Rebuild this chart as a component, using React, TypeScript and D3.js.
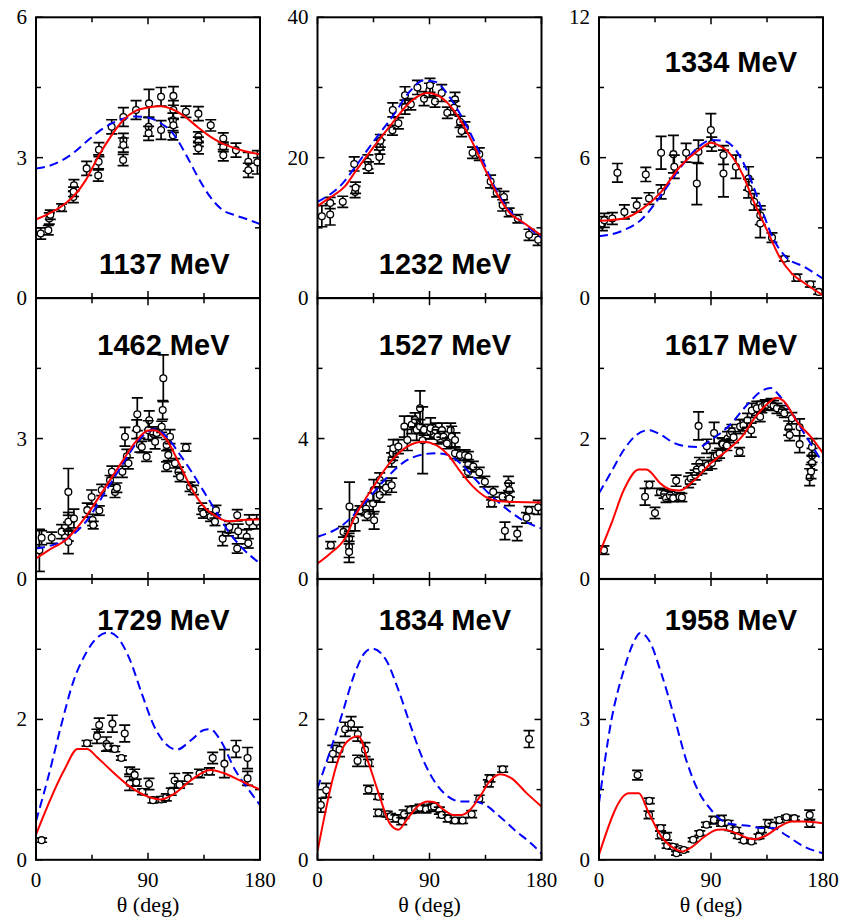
import React from 'react';
import * as d3 from 'd3';

// [theta (deg), dσ/dΩ, error]
type Pt = [number, number, number];
type Cv = [number, number][];

const ENERGIES = ['1137', '1232', '1334', '1462', '1527', '1617', '1729', '1834', '1958'];
const Y_MAX = [6, 40, 12, 6, 8, 4, 4, 4, 6];
const X_TICKS = [0, 45, 90, 135, 180];
const X_LABELS = [0, 90, 180];
const X_TITLE = 'θ (deg)';

const DATA_1137: Pt[] = [
  [3.8,1.38,0.12],[9.9,1.45,0.1],[10.7,1.70,0.12],[11.5,1.78,0.1],[20.6,1.93,0.08],[30,2.16,0.12],[30.5,2.41,0.12],[30.2,2.27,0.1],
  [40.7,2.77,0.15],[50,2.62,0.12],[50.6,3.17,0.15],[50.3,2.91,0.15],[60.8,3.66,0.15],[70.2,3.87,0.2],[70.2,3.37,0.15],[70.2,3.27,0.15],
  [70,2.95,0.12],[80.4,4.02,0.2],[90.8,4.16,0.3],[90.5,3.66,0.2],[90.5,3.52,0.15],[100.5,4.30,0.2],[100.5,3.59,0.2],[110.4,4.32,0.2],
  [110.4,4.02,0.2],[110,3.80,0.15],[110.4,3.69,0.15],[110,3.48,0.1],[120.5,3.98,0.12],[130.5,3.94,0.15],[130.5,3.45,0.1],[130.5,3.34,0.1],
  [130.5,3.20,0.12],[140.4,3.69,0.12],[150.5,3.41,0.12],[150.5,3.23,0.1],[150.5,3.05,0.12],[160.7,3.16,0.15],[170.6,2.91,0.2],[170.6,2.73,0.15],
  [177.9,2.90,0.25],
];
const DATA_1232: Pt[] = [
  [3.5,11.65,1.5],[10.2,11.9,1.5],[10.2,13.55,0.8],[20.3,13.7,0.8],[30.2,15.1,0.8],[30.6,15.7,0.8],[29.5,19.1,1.0],[40.5,19.4,1.0],
  [41,18.6,0.8],[49.7,20.1,1.0],[50.2,21.5,1.0],[50.5,22.4,0.9],[60.2,23.9,0.7],[60.5,26.8,1.0],[65,24.9,0.8],[70.3,27.2,1.0],
  [70.3,28.9,1.2],[75,27.6,0.8],[80.3,30.0,1.0],[85.6,28.4,1.0],[89.9,29.6,1.0],[90.4,30.3,1.0],[94.4,28.0,0.8],[99.8,29.2,1.2],
  [104.3,26.4,0.8],[110.5,28.3,1.0],[109.7,27.1,1.0],[114.5,25.1,0.8],[118.5,24.3,0.8],[115.8,23.8,0.8],[124.6,20.7,0.8],[130,20.5,0.9],
  [139.1,16.6,0.9],[144,15.0,0.6],[149.8,14.4,0.8],[148.8,13.2,0.8],[154,12.2,0.6],[161,11.3,0.6],[170,9.0,0.8],[177.3,8.3,0.8],
];
const DATA_1334: Pt[] = [
  [2.7,3.18,0.3],[4.3,3.32,0.3],[10.7,3.40,0.25],[14.8,5.35,0.4],[20.4,3.68,0.3],[30.3,3.97,0.3],[37.6,5.28,0.3],[40.2,4.25,0.25],
  [49.9,6.21,0.7],[49.9,4.54,0.3],[59.8,6.15,0.8],[60.5,5.61,0.5],[70,6.21,0.4],[78.6,4.89,0.9],[79.9,6.25,0.5],[89.9,7.18,0.7],
  [90.6,6.58,0.3],[100,5.32,1.0],[100,6.11,0.4],[110,5.61,0.5],[120.2,5.11,0.5],[120.2,4.68,0.4],[124.7,4.11,0.35],[129.6,3.54,0.4],
  [129.6,3.18,0.6],[139,2.58,0.2],[148.9,1.68,0.1],[159,0.87,0.15],[169.8,0.59,0.12],[176.5,0.26,0.1],
];
const DATA_1462: Pt[] = [
  [2.7,0.61,0.45],[4.5,0.88,0.15],[12.6,0.88,0.12],[20.6,1.01,0.15],[26,1.86,0.5],[26,1.01,0.2],[26,1.22,0.2],[26,0.79,0.25],
  [30.5,1.29,0.2],[41.2,1.47,0.15],[44.7,1.75,0.15],[45.5,1.26,0.12],[46,1.15,0.08],[50.9,1.46,0.1],[52.8,1.90,0.12],[59.5,2.11,0.1],
  [61,2.29,0.12],[63.5,1.86,0.12],[65,1.95,0.1],[69.4,2.29,0.12],[71.5,3.04,0.2],[73,2.62,0.15],[74.2,2.47,0.12],[81.4,3.52,0.35],
  [80.9,3.20,0.2],[83.5,2.86,0.15],[85,2.82,0.12],[88.9,2.61,0.1],[91,3.39,0.2],[90.2,3.18,0.2],[94.2,3.10,0.15],[95.7,2.93,0.15],
  [97,3.12,0.1],[102.3,4.29,0.5],[101.8,3.61,0.2],[101,3.25,0.12],[105,2.86,0.12],[105,2.40,0.1],[106.3,2.65,0.12],[107.7,3.04,0.15],
  [111.7,2.47,0.1],[114.5,2.29,0.1],[115.8,2.18,0.1],[120.5,2.81,0.08],[123.8,1.97,0.1],[126.5,1.90,0.1],[133.2,1.50,0.12],[134.5,1.40,0.1],
  [140.3,1.33,0.1],[144.6,1.47,0.1],[143.8,1.22,0.08],[150,0.86,0.15],[154.6,1.04,0.12],[155.4,1.11,0.12],[161.7,1.36,0.12],[161.7,0.65,0.1],
  [162.5,1.02,0.15],[169.3,0.90,0.15],[170.6,0.76,0.1],[171.4,1.22,0.15],[177.3,1.22,0.15],
];
const DATA_1527: Pt[] = [
  [10.7,0.96,0.1],[20.9,1.34,0.15],[25.7,2.06,0.7],[25.4,1.15,0.15],[25.4,0.91,0.3],[25.4,0.77,0.3],[30.2,1.67,0.3],[34.2,1.96,0.12],
  [39,2.0,0.2],[40,1.82,0.15],[44.7,2.15,0.3],[45.5,1.67,0.25],[45.2,2.53,0.3],[50,2.82,0.2],[50,2.39,0.2],[55,2.6,0.2],
  [59.6,2.67,0.2],[59.6,3.39,0.2],[60.4,3.58,0.2],[60.9,3.72,0.25],[65,3.77,0.2],[69.8,4.34,0.3],[72.2,3.96,0.3],[75.7,4.39,0.25],
  [78.4,4.53,0.2],[79.7,4.25,0.3],[82.4,4.86,0.5],[82.4,4.34,0.2],[84.5,3.95,0.95],[85.6,4.25,0.15],[90.4,4.20,0.2],[90.9,4.29,0.3],
  [94.9,4.24,0.2],[96.3,4.05,0.2],[100,4.24,0.2],[101.3,4.05,0.15],[104,3.86,0.15],[107,4.24,0.2],[107.8,4.05,0.3],[110.5,3.96,0.2],
  [110.5,3.58,0.15],[114.5,3.53,0.15],[118.6,3.53,0.15],[121.2,3.48,0.15],[121.2,3.25,0.15],[121,3.05,0.15],[125.2,3.2,0.15],[130,3.03,0.15],
  [134.5,2.77,0.15],[139.9,2.15,0.1],[141.2,2.48,0.15],[148.7,2.34,0.12],[153.4,2.72,0.2],[154.2,2.53,0.2],[154.2,2.29,0.2],[150.6,1.37,0.25],
  [160.5,1.29,0.2],[168,1.74,0.15],[170,1.96,0.1],[177.4,2.04,0.2],
];
const DATA_1617: Pt[] = [
  [4,0.41,0.06],[37,1.17,0.12],[40.5,1.34,0.05],[45,0.94,0.08],[49,1.24,0.05],[52.3,1.21,0.06],[53.9,1.15,0.06],[57,1.19,0.06],
  [59.6,1.15,0.05],[62,1.40,0.08],[64.7,1.17,0.06],[66.6,1.16,0.06],[72,1.38,0.08],[73.8,1.43,0.08],[77.3,1.48,0.07],[78.6,1.56,0.08],
  [80,2.18,0.2],[80.7,1.65,0.08],[82.7,1.57,0.07],[86.6,1.89,0.1],[87.2,1.62,0.07],[90.7,1.65,0.08],[92.5,2.08,0.15],[92.8,1.74,0.06],
  [94.6,1.76,0.07],[96.9,1.79,0.07],[98.8,1.93,0.08],[99.5,1.92,0.08],[103.3,2.0,0.1],[102.8,1.90,0.07],[105.4,2.07,0.08],[106.8,2.10,0.1],
  [108.1,2.02,0.08],[113,1.81,0.06],[113.4,2.17,0.1],[116.1,2.19,0.08],[119.3,2.26,0.1],[122.3,2.12,0.1],[122.8,2.40,0.1],[126.8,2.43,0.1],
  [129.5,2.31,0.07],[130.9,2.45,0.08],[133.6,2.48,0.07],[134.9,2.48,0.07],[138.2,2.49,0.08],[140.3,2.47,0.07],[143,2.43,0.07],[147,2.40,0.07],
  [148.9,2.36,0.06],[152.4,2.15,0.1],[153.2,2.05,0.08],[155,2.29,0.08],[161.2,1.92,0.12],[161.2,2.16,0.12],[171.2,1.76,0.1],[171.2,1.88,0.12],
  [171.2,1.65,0.1],[169.3,1.45,0.12],[170.4,1.53,0.1],
];
const DATA_1729: Pt[] = [
  [4.5,0.28,0.03],[41,1.66,0.04],[49,1.76,0.1],[50.8,1.92,0.1],[56.6,1.65,0.1],[58,1.61,0.05],[61.4,1.94,0.12],[63.3,1.58,0.04],
  [68.6,1.45,0.03],[71.3,1.80,0.12],[75.3,1.27,0.05],[75.3,1.09,0.1],[79.3,1.21,0.08],[80.6,1.10,0.05],[85.5,0.97,0.04],[90.8,1.08,0.08],
  [94,0.85,0.04],[100.7,0.86,0.04],[104.7,0.89,0.05],[108.7,0.97,0.05],[111.4,1.13,0.1],[115.4,1.07,0.05],[122,1.16,0.08],[131.4,1.23,0.06],
  [139.4,1.26,0.05],[142,1.45,0.08],[151.4,1.37,0.2],[160.8,1.58,0.12],[170,1.45,0.15],[170,1.16,0.1],
];
const DATA_1834: Pt[] = [
  [2.7,0.78,0.1],[7,0.99,0.1],[12.3,1.51,0.12],[17.7,1.57,0.1],[22.2,1.86,0.1],[27,1.94,0.1],[32.4,1.79,0.1],[32.2,1.41,0.08],
  [38.2,1.57,0.1],[41,1.38,0.05],[41,1.0,0.06],[49,0.90,0.04],[49,0.67,0.05],[56,0.65,0.04],[58.8,0.62,0.04],[63,0.59,0.05],
  [67.7,0.55,0.05],[69.6,0.65,0.06],[74.4,0.71,0.05],[78.4,0.72,0.05],[82.4,0.74,0.05],[87.2,0.72,0.05],[91.7,0.74,0.05],[93.6,0.76,0.05],
  [97.9,0.70,0.05],[99.8,0.64,0.04],[105,0.59,0.05],[110.5,0.56,0.04],[116.6,0.56,0.04],[123.9,0.65,0.05],[130,0.87,0.05],[137.3,1.09,0.05],
  [138.6,1.16,0.05],[148.8,1.29,0.04],[170,1.72,0.12],
];
const DATA_1958: Pt[] = [
  [31,1.81,0.1],[40.4,1.26,0.06],[40.2,0.96,0.08],[49.5,0.68,0.06],[49.5,0.53,0.08],[54.3,0.50,0.08],[54.8,0.30,0.05],[59.6,0.28,0.05],
  [62.3,0.14,0.04],[65,0.23,0.04],[68.2,0.21,0.04],[75.7,0.43,0.04],[81,0.57,0.05],[86.4,0.75,0.05],[92.3,0.85,0.08],[98.4,0.87,0.08],
  [98.4,0.78,0.06],[103.8,0.78,0.06],[105.1,0.68,0.05],[110,0.63,0.06],[111.9,0.51,0.05],[116.3,0.41,0.04],[122.5,0.39,0.04],[128.6,0.50,0.05],
  [130.5,0.64,0.06],[135.9,0.78,0.08],[139.9,0.73,0.05],[145,0.85,0.05],[150.6,0.91,0.04],[157,0.89,0.04],[169.3,0.96,0.1],[169.3,0.78,0.08],
];

// Full model (solid red)
const FIT_1137: Cv = [[0,1.68],[10,1.80],[20,1.95],[24,2.03],[30,2.17],[40,2.52],[50,3.02],[60,3.45],[70,3.80],[80,4.00],[90,4.07],[100,4.10],[110,4.03],[120,3.87],[130,3.65],[140,3.45],[150,3.30],[165,3.16],[180,3.07]];
const FIT_1232: Cv = [[0,13.1],[10,14.3],[22,15.9],[30,17.9],[45,21.5],[60,24.9],[75,28.0],[88,29.2],[95,29.0],[105,27.7],[115,25.3],[125,22.0],[135,18.2],[145,14.6],[155,12.0],[165,10.8],[180,8.9]];
const FIT_1334: Cv = [[0,3.30],[20,3.40],[35,3.82],[50,4.54],[65,5.61],[80,6.32],[90,6.64],[95,6.56],[105,6.18],[115,5.32],[125,4.04],[135,2.90],[145,1.76],[155,1.04],[165,0.64],[180,0.11]];
const FIT_1462: Cv = [[0,0.44],[10,0.61],[25,0.86],[40,1.33],[55,1.93],[70,2.54],[80,2.93],[90,3.17],[95,3.18],[105,2.97],[115,2.47],[125,1.93],[135,1.54],[145,1.33],[155,1.23],[165,1.26],[180,1.27]];
const FIT_1527: Cv = [[0,0.44],[10,0.72],[22,1.15],[30,1.77],[45,2.63],[60,3.39],[72,3.77],[85,3.91],[95,3.82],[105,3.53],[115,3.05],[125,2.63],[135,2.34],[145,2.22],[160,2.19],[180,2.18]];
const FIT_1617: Cv = [[0,0.35],[10,0.79],[20,1.27],[32,1.56],[38,1.56],[50,1.35],[58,1.27],[65,1.26],[75,1.38],[90,1.65],[105,1.86],[115,2.03],[125,2.29],[135,2.49],[143,2.58],[148,2.54],[160,2.22],[170,2.03],[180,1.79]];
const FIT_1729: Cv = [[0,0.36],[23,1.29],[33.4,1.58],[41,1.58],[48.6,1.47],[60,1.28],[75,1.05],[90,0.90],[100,0.86],[110,0.93],[125,1.14],[140,1.28],[150,1.24],[165,1.12],[180,1.00]];
const FIT_1834: Cv = [[0,0.12],[23.5,1.68],[32.9,1.76],[41,1.38],[50,0.90],[58,0.52],[65,0.43],[71.7,0.57],[79.7,0.75],[89,0.83],[94,0.82],[101,0.72],[109,0.64],[116,0.64],[122.5,0.71],[130.5,0.90],[138.5,1.12],[146.6,1.22],[156,1.16],[168,0.95],[180,0.76]];
const FIT_1958: Cv = [[0,0.11],[24,1.42],[32,1.42],[40,1.0],[50,0.50],[60,0.25],[67,0.18],[75,0.28],[85,0.50],[95,0.64],[100,0.65],[110,0.57],[120,0.46],[125,0.44],[135,0.53],[145,0.71],[155,0.82],[165,0.82],[180,0.78]];

// Reduced model (dashed blue)
const ALT_1137: Cv = [[0,2.77],[10,2.82],[20,2.93],[30,3.10],[40,3.33],[50,3.55],[60,3.72],[70,3.83],[80,3.88],[90,3.86],[100,3.74],[110,3.52],[120,3.09],[130,2.59],[140,2.16],[150,1.88],[160,1.77],[170,1.68],[180,1.58]];
const ALT_1232: Cv = [[0,13.7],[20,16.3],[30,18.6],[45,22.3],[60,25.8],[75,29.6],[85,31.0],[95,30.8],[105,28.9],[115,26.1],[125,22.7],[135,18.7],[145,14.9],[155,12.3],[165,10.7],[180,8.6]];
const ALT_1334: Cv = [[0,2.64],[20,2.90],[35,3.40],[50,4.40],[65,5.54],[80,6.46],[90,6.75],[100,6.72],[110,6.32],[120,5.32],[130,3.90],[140,2.54],[150,1.76],[165,1.33],[180,0.83]];
const ALT_1462: Cv = [[0,0.65],[25,0.86],[40,1.22],[55,1.83],[70,2.47],[85,3.04],[95,3.20],[105,3.04],[115,2.68],[125,2.29],[135,1.86],[145,1.43],[155,1.0],[165,0.68],[180,0.33]];
const ALT_1527: Cv = [[0,1.20],[20,1.53],[40,2.25],[55,2.86],[70,3.34],[85,3.55],[95,3.58],[105,3.53],[115,3.29],[125,2.91],[135,2.53],[145,2.20],[155,1.91],[165,1.67],[180,1.44]];
const ALT_1617: Cv = [[0,1.22],[10,1.53],[20,1.84],[30,2.05],[40,2.12],[50,2.05],[60,1.94],[70,1.89],[80,1.88],[90,1.98],[105,2.19],[120,2.50],[130,2.67],[138,2.72],[145,2.61],[155,2.36],[165,2.07],[180,1.65]];
const ALT_1729: Cv = [[0,0.55],[10,1.19],[20,1.90],[30,2.54],[40,2.94],[50,3.18],[58,3.24],[65,3.18],[75,2.87],[85,2.37],[95,1.90],[105,1.64],[113,1.57],[125,1.71],[135,1.85],[140,1.86],[148,1.71],[160,1.28],[170,1.02],[180,0.78]];
const ALT_1834: Cv = [[0,1.02],[10,1.54],[20,2.09],[30,2.66],[38,2.95],[44,3.01],[55,2.85],[65,2.42],[75,1.90],[85,1.42],[95,1.09],[105,0.90],[115,0.83],[125,0.83],[135,0.78],[145,0.64],[160,0.40],[170,0.26],[180,0.09]];
const ALT_1958: Cv = [[0,1.21],[10,2.99],[20,4.06],[28,4.66],[33,4.85],[40,4.70],[50,3.99],[60,3.10],[70,2.14],[80,1.46],[90,1.07],[100,0.82],[110,0.75],[120,0.73],[130,0.68],[140,0.68],[150,0.53],[165,0.28],[180,0.14]];

const DATA = [DATA_1137, DATA_1232, DATA_1334, DATA_1462, DATA_1527, DATA_1617, DATA_1729, DATA_1834, DATA_1958];
const FITS = [FIT_1137, FIT_1232, FIT_1334, FIT_1462, FIT_1527, FIT_1617, FIT_1729, FIT_1834, FIT_1958];
const ALTS = [ALT_1137, ALT_1232, ALT_1334, ALT_1462, ALT_1527, ALT_1617, ALT_1729, ALT_1834, ALT_1958];

// Grid geometry
const WIDTH = 843;
const HEIGHT = 921;
const LEFT = 36;
const TOP = 17.3;
const COL_STEP = 281.5;
const ROW_STEP = 280.9;
const PW = 224;
const PH = 280.7;

// Energy label: 'bottom' sits near the x axis, otherwise near the top edge
const LABEL_AT_BOTTOM = [true, true, false, false, false, false, false, false, false];
const LABEL_TOP_OFFSET = [54.5, 57, 50.5];
const LABEL_RIGHT_INSET = [30.5, 30.5, 26];

const SERIF = '"Liberation Serif", "Times New Roman", serif';
const SANS = '"Liberation Sans", Arial, Helvetica, sans-serif';

function Panel({ i }: { i: number }) {
  const row = Math.floor(i / 3);
  const col = i % 3;
  const x0 = LEFT + col * COL_STEP;
  const y0 = TOP + row * ROW_STEP;
  const ymax = Y_MAX[i];
  const x = d3.scaleLinear().domain([0, 180]).range([x0, x0 + PW]);
  const y = d3.scaleLinear().domain([0, ymax]).range([y0 + PH, y0]);
  const line = d3
    .line<[number, number]>()
    .x((d) => x(d[0]))
    .y((d) => y(d[1]))
    .curve(d3.curveMonotoneX);
  const yTicks = [0, ymax / 4, ymax / 2, (3 * ymax) / 4, ymax];
  const yLabels = row === 0 ? [0, ymax / 2, ymax] : [0, ymax / 2];
  const clipId = `clip-${i}`;
  const labelX = x0 + PW - LABEL_RIGHT_INSET[col];
  const labelY = LABEL_AT_BOTTOM[i] ? y0 + PH - 24.5 : y0 + LABEL_TOP_OFFSET[row];
  const cap = 5.5;

  return (
    <g>
      <defs>
        <clipPath id={clipId}>
          <rect x={x0} y={y0} width={PW} height={PH} />
        </clipPath>
      </defs>
      {/* ticks on all four sides, pointing inward */}
      {X_TICKS.map((t) => {
        const len = t % 90 === 0 ? 7 : 5;
        return (
          <g key={`xt${t}`} stroke="#000" strokeWidth={1.5}>
            <line x1={x(t)} x2={x(t)} y1={y0 + PH} y2={y0 + PH - len} />
            <line x1={x(t)} x2={x(t)} y1={y0} y2={y0 + len} />
          </g>
        );
      })}
      {yTicks.map((t, k) => {
        const len = k % 2 === 0 ? 7 : 5;
        return (
          <g key={`yt${k}`} stroke="#000" strokeWidth={1.5}>
            <line x1={x0} x2={x0 + len} y1={y(t)} y2={y(t)} />
            <line x1={x0 + PW} x2={x0 + PW - len} y1={y(t)} y2={y(t)} />
          </g>
        );
      })}
      {yLabels.map((t) => (
        <text
          key={`yl${t}`}
          x={x0 - 9}
          y={y(t) + 7}
          textAnchor="end"
          fontFamily={SERIF}
          fontSize={21}
          fill="#000"
        >
          {d3.format('~g')(t)}
        </text>
      ))}
      {row === 2 &&
        X_LABELS.map((t) => (
          <text
            key={`xl${t}`}
            x={x(t)}
            y={y0 + PH + 27}
            textAnchor="middle"
            fontFamily={SERIF}
            fontSize={21}
            fill="#000"
          >
            {t}
          </text>
        ))}
      {row === 2 && (
        <text
          x={x(90)}
          y={y0 + PH + 52}
          textAnchor="middle"
          fontFamily={SERIF}
          fontSize={22}
          fill="#000"
        >
          {X_TITLE}
        </text>
      )}
      <text
        x={labelX}
        y={labelY}
        textAnchor="end"
        fontFamily={SANS}
        fontWeight="bold"
        fontSize={29}
        fill="#000"
      >
        {`${ENERGIES[i]} MeV`}
      </text>
      <g clipPath={`url(#${clipId})`}>
        {DATA[i].map((d, k) => {
          const cx = x(d[0]);
          const lo = y(d[1] - d[2]);
          const hi = y(d[1] + d[2]);
          return (
            <g key={`p${k}`}>
              <g stroke="#000" strokeWidth={1.7}>
                <line x1={cx} x2={cx} y1={lo} y2={hi} />
                <line x1={cx - cap} x2={cx + cap} y1={lo} y2={lo} />
                <line x1={cx - cap} x2={cx + cap} y1={hi} y2={hi} />
              </g>
              <circle cx={cx} cy={y(d[1])} r={3.4} fill="#fff" stroke="#000" strokeWidth={1.3} />
            </g>
          );
        })}
        <path d={line(ALTS[i]) ?? ''} fill="none" stroke="#0000ff" strokeWidth={2} strokeDasharray="9 5" />
        <path d={line(FITS[i]) ?? ''} fill="none" stroke="#ff0000" strokeWidth={2} />
      </g>
      <rect x={x0} y={y0} width={PW} height={PH} fill="none" stroke="#000" strokeWidth={2} />
    </g>
  );
}

export default function App() {
  return (
    <svg
      width={WIDTH}
      height={HEIGHT}
      viewBox={`0 0 ${WIDTH} ${HEIGHT}`}
      style={{ position: 'absolute', left: 0, top: 0, background: '#fff' }}
    >
      <rect x={0} y={0} width={WIDTH} height={HEIGHT} fill="#fff" />
      {ENERGIES.map((_, i) => (
        <Panel key={i} i={i} />
      ))}
    </svg>
  );
}
